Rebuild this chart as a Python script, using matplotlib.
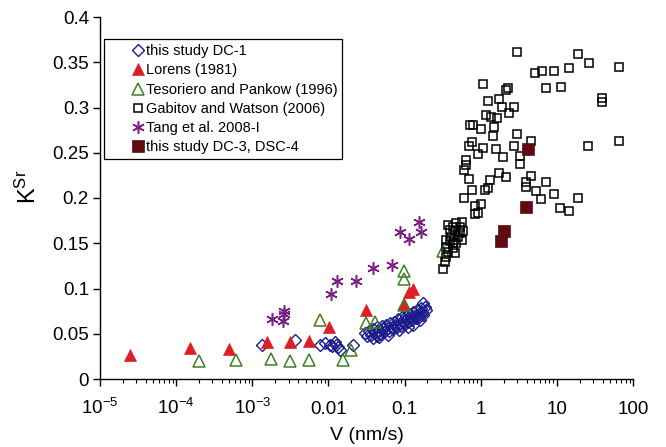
import numpy as np
import matplotlib
matplotlib.use('Agg')
import matplotlib.pyplot as plt
from matplotlib.lines import Line2D
from matplotlib.legend_handler import HandlerLine2D

plt.rcParams['font.family'] = ['Liberation Sans', 'DejaVu Sans']
plt.rcParams['mathtext.fontset'] = 'custom'
plt.rcParams['mathtext.rm'] = 'Liberation Sans'
plt.rcParams['mathtext.it'] = 'Liberation Sans:italic'

# ---------------- data ----------------
dc1_x = [1.36e-3, 3.6e-3, 7.7e-3, 9.0e-3, 0.0105, 0.0112, 0.0121, 0.0134, 0.0141, 0.0211, 0.0125,
         0.030, 0.032, 0.034, 0.036, 0.038, 0.039, 0.041, 0.043, 0.044, 0.046, 0.048, 0.050,
         0.052, 0.054, 0.057, 0.060, 0.062, 0.065, 0.068, 0.070, 0.073, 0.076, 0.080, 0.083,
         0.086, 0.090, 0.093, 0.097, 0.100, 0.104, 0.108, 0.112, 0.116, 0.120, 0.125, 0.130,
         0.135, 0.140, 0.145, 0.150, 0.156, 0.162, 0.168, 0.175, 0.183, 0.190, 0.175, 0.110,
         0.085, 0.060, 0.046, 0.128, 0.160]
dc1_y = [0.0376, 0.043, 0.0376, 0.0394, 0.0376, 0.036, 0.0412, 0.0357, 0.032, 0.0376, 0.038,
         0.0505, 0.047, 0.053, 0.049, 0.045, 0.055, 0.051, 0.048, 0.057, 0.053, 0.050, 0.059,
         0.055, 0.052, 0.060, 0.056, 0.053, 0.062, 0.058, 0.055, 0.063, 0.060, 0.057, 0.066,
         0.062, 0.059, 0.068, 0.064, 0.061, 0.070, 0.066, 0.063, 0.072, 0.068, 0.065, 0.074,
         0.070, 0.067, 0.076, 0.072, 0.069, 0.078, 0.074, 0.071, 0.080, 0.076, 0.084, 0.058,
         0.054, 0.049, 0.046, 0.060, 0.065]

lorens_x = [2.45e-5, 1.5e-4, 5.0e-4, 1.55e-3, 3.1e-3, 5.6e-3, 0.0101, 0.0316, 0.098, 0.115, 0.129]
lorens_y = [0.0265, 0.034, 0.033, 0.041, 0.041, 0.0425, 0.057, 0.076, 0.083, 0.0965, 0.100]

tes_x = [2.0e-4, 6.2e-4, 1.74e-3, 3.1e-3, 5.6e-3, 7.8e-3, 0.0155, 0.0198, 0.0316, 0.041,
         0.098, 0.099, 0.099, 0.32]
tes_y = [0.020, 0.021, 0.0225, 0.0195, 0.021, 0.065, 0.021, 0.032, 0.0615, 0.063,
         0.082, 0.11, 0.119, 0.141]

gab_x = [3.0, 19.0, 26.4, 66, 14.6, 9.1, 6.3, 5.2, 11.2, 7.3, 39, 39, 66, 26, 19, 14.3, 11.1,
         9.1, 7.3, 6.1, 5.3,
         1.07, 2.31, 2.15, 1.25, 1.74, 1.93, 2.71, 2.33, 1.16, 1.35, 1.64, 0.72, 0.79, 1.0,
         1.50, 1.44, 3.0, 4.53, 0.77, 0.70, 1.07, 1.61, 2.71, 0.91, 1.95, 3.32, 3.32, 0.65,
         0.635, 0.60, 0.70, 1.74, 2.17, 1.34, 4.53, 3.9, 3.9, 0.77, 0.60, 1.15, 1.25, 0.85,
         1.0, 0.83, 0.93,
         0.372, 0.434, 0.48, 0.53, 0.56, 0.39, 0.456, 0.53, 0.59, 0.41, 0.50, 0.56, 0.354,
         0.39, 0.434, 0.48, 0.354, 0.372, 0.434, 0.456, 0.348, 0.337, 0.32]
gab_y = [0.361, 0.3595, 0.349, 0.345, 0.3436, 0.340, 0.340, 0.338, 0.323, 0.321, 0.310, 0.306,
         0.263, 0.2575, 0.200, 0.186, 0.189, 0.204, 0.218, 0.1985, 0.208,
         0.326, 0.322, 0.319, 0.3075, 0.3097, 0.3006, 0.3006, 0.294, 0.2913, 0.2898, 0.2884,
         0.2807, 0.2807, 0.2766, 0.279, 0.2685, 0.271, 0.263, 0.2615, 0.2578, 0.2552, 0.2538,
         0.2575, 0.2486, 0.2457, 0.2467, 0.2376, 0.242, 0.2365, 0.231, 0.2213, 0.228, 0.2232,
         0.220, 0.2243, 0.218, 0.2125, 0.2092, 0.200, 0.2085, 0.2107, 0.191, 0.1937, 0.1827,
         0.1838,
         0.170, 0.168, 0.172, 0.168, 0.174, 0.165, 0.163, 0.161, 0.163, 0.157, 0.157, 0.154,
         0.154, 0.152, 0.150, 0.150, 0.146, 0.1407, 0.1444, 0.139, 0.135, 0.1296, 0.121]

tang_x = [1.79e-3, 2.5e-3, 2.6e-3, 2.6e-3, 0.0107, 0.013, 0.023, 0.038, 0.0686, 0.088, 0.115,
          0.155, 0.166]
tang_y = [0.066, 0.064, 0.072, 0.075, 0.0936, 0.108, 0.108, 0.123, 0.126, 0.162, 0.155,
          0.174, 0.162]

dc3_x = [4.2, 3.9, 2.0, 1.82]
dc3_y = [0.254, 0.19, 0.1635, 0.152]

labels = ['this study DC-1', 'Lorens (1981)', 'Tesoriero and Pankow (1996)',
          'Gabitov and Watson (2006)', 'Tang et al. 2008-I', 'this study DC-3, DSC-4']

xtick_vals = [1e-5, 1e-4, 1e-3, 1e-2, 1e-1, 1, 10, 100]
xtick_labels = [r'$\mathregular{10^{-5}}$', r'$\mathregular{10^{-4}}$',
                r'$\mathregular{10^{-3}}$', '0.01', '0.1', '1', '10', '100']
ytick_vals = [0, 0.05, 0.1, 0.15, 0.2, 0.25, 0.3, 0.35, 0.4]
ytick_labels = ['0', '0.05', '0.1', '0.15', '0.2', '0.25', '0.3', '0.35', '0.4']

# ---------------- figure ----------------
fig = plt.figure(figsize=(6.66, 4.47), dpi=100)
ax = fig.add_axes([100/666, 1 - 379/447, 533/666, 362/447])

ax.plot(dc1_x, dc1_y, ls='none', marker='D', ms=6.5, mfc='none', mec='#1b1a8a', mew=1.0,
        label=labels[0])
ax.plot(lorens_x, lorens_y, ls='none', marker='^', ms=8.5, mfc='#dc1f26', mec='#dc1f26',
        mew=0.5, label=labels[1])
ax.plot(tes_x, tes_y, ls='none', marker='^', ms=8.5, mfc='none', mec='#3f7d22', mew=1.1,
        label=labels[2])
ax.plot(gab_x, gab_y, ls='none', marker='s', ms=5.8, mfc='none', mec='black', mew=1.1,
        label=labels[3])
ax.plot(tang_x, tang_y, ls='none', marker=(6, 2, 0), ms=9, mec='#7a1f86', mew=1.1,
        label=labels[4])
ax.plot(dc3_x, dc3_y, ls='none', marker='s', ms=8, mfc='#5e0b12', mec='#5e0b12', mew=0.5,
        label=labels[5])

ax.set_xscale('log')
ax.set_xlim(1e-5, 100)
ax.set_ylim(0, 0.4)
ax.set_xticks(xtick_vals)
ax.set_xticklabels(xtick_labels, va='baseline')
ax.set_yticks(ytick_vals)
ax.set_yticklabels(ytick_labels)

for s in ['top', 'right']:
    ax.spines[s].set_visible(False)
for s in ['left', 'bottom']:
    ax.spines[s].set_linewidth(1.0)

ax.tick_params(axis='both', which='major', direction='out', length=5, width=1.0,
               labelsize=13.5, colors='black')
ax.tick_params(axis='x', which='major', pad=20)
ax.tick_params(axis='y', which='major', pad=3)
ax.tick_params(axis='x', which='minor', direction='out', length=3, width=0.8)

ax.set_xlabel('V (nm/s)', fontsize=14, labelpad=7)
ax.set_ylabel(r'$\mathregular{K^{Sr}}$', fontsize=17)
ax.yaxis.set_label_coords(-0.11, 0.53)


class RightMarker(HandlerLine2D):
    def get_xdata(self, legend, xdescent, ydescent, width, height, fontsize):
        xm = -xdescent + width - 0.35 * fontsize
        return [xm - 1, xm + 1], [xm]


leg = ax.legend(loc='upper left', bbox_to_anchor=(4/533, 1 - 22/362), fontsize=10.5,
                frameon=True, fancybox=False, edgecolor='black', framealpha=1,
                borderpad=0.35, handlelength=2.3, handletextpad=0.2, labelspacing=0.36,
                borderaxespad=0, numpoints=1,
                handler_map={Line2D: RightMarker()})
leg.get_frame().set_linewidth(0.9)

fig.savefig('out.png', dpi=100)
